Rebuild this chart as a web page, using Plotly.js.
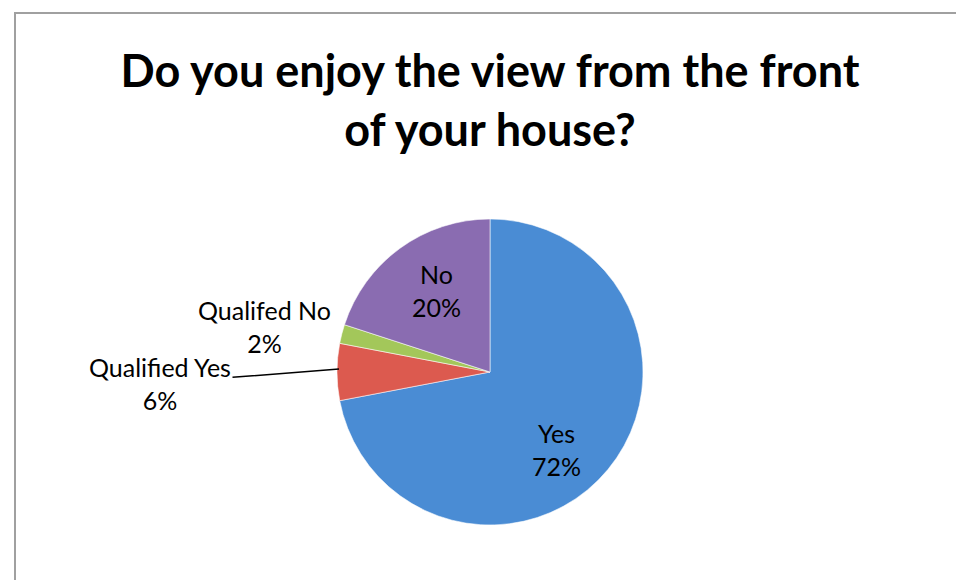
<!DOCTYPE html>
<html>
<head>
<meta charset="utf-8">
<script src="https://cdn.plot.ly/plotly-3.0.1.min.js"></script>
<style>
  html, body { margin: 0; padding: 0; background: #ffffff; }
  #wrap { position: relative; width: 956px; height: 580px; overflow: hidden; }
  #chart { position: absolute; left: 0; top: 0; width: 956px; height: 580px; }
  #frame { position: absolute; left: 14px; top: 12px; width: 1000px; height: 1000px;
           border: 2px solid #a0a0a0; pointer-events: none; }
</style>
</head>
<body>
<div id="wrap">
  <div id="chart"></div>
  <div id="frame"></div>
</div>
<script>
// ---- data ----
const categories = ["Yes", "Qualified Yes", "Qualifed No", "No"];
const values = [72, 6, 2, 20];
const sliceColors = ["#4a8cd4", "#dc5a4f", "#a3c75a", "#8a6cb1"];
const chartTitle = "Do you enjoy the view from the front<br>of your house?";

// label centre placement (pixels from top-left) and whether a leader line is drawn
const labelPos = [
  {x: 556, y: 449, arrow: false},
  {x: 160, y: 383, arrow: true},
  {x: 264, y: 326, arrow: false},
  {x: 436, y: 290, arrow: false}
];

const fontFam = "Lato, 'Open Sans', sans-serif";

// pie geometry
const W = 956, H = 580;
const cx = 490, cy = 372, R = 153;
const domX = [(cx - R) / W, (cx + R) / W];
const domY = [1 - (cy + R) / H, 1 - (cy - R) / H];

const total = values.reduce((a, b) => a + b, 0);
const annotations = [];
let cum = 0;
categories.forEach((c, i) => {
  const mid = (cum + values[i] / 2) / total;
  cum += values[i];
  const pct = Math.round(values[i] / total * 100) + "%";
  const ann = {
    xref: "paper", yref: "paper",
    x: labelPos[i].x / W, y: 1 - labelPos[i].y / H,
    xanchor: "center", yanchor: "middle",
    text: c + "<br>" + pct,
    showarrow: false,
    font: {family: fontFam, size: 25, color: "#000000"},
    align: "center"
  };
  if (labelPos[i].arrow) {
    const ang = mid * 2 * Math.PI; // clockwise from top
    const px = cx + R * Math.sin(ang) + 2;
    const py = cy - R * Math.cos(ang) - 3;
    ann.x = px / W; ann.y = 1 - py / H;
    ann.showarrow = true; ann.arrowhead = 0; ann.arrowwidth = 1.5;
    ann.arrowcolor = "#000000";
    ann.ax = labelPos[i].x - px; ann.ay = labelPos[i].y - py;
  }
  annotations.push(ann);
});

const trace = {
  type: "pie",
  labels: categories,
  values: values,
  sort: false,
  direction: "clockwise",
  rotation: 0,
  textinfo: "none",
  hoverinfo: "label+percent",
  marker: {colors: sliceColors, line: {color: "rgba(255,255,255,0.55)", width: 1}},
  domain: {x: domX, y: domY},
  showlegend: false
};

const layout = {
  width: W, height: H,
  margin: {l: 0, r: 0, t: 0, b: 0},
  paper_bgcolor: "#ffffff",
  title: {
    text: chartTitle,
    x: 490 / W, xanchor: "center",
    y: 0.85, yanchor: "top",
    font: {family: fontFam, size: 45, color: "#000000", weight: "bold"}
  },
  annotations: annotations,
  showlegend: false
};

Plotly.newPlot("chart", [trace], layout, {displayModeBar: false, staticPlot: true});
</script>
</body>
</html>
